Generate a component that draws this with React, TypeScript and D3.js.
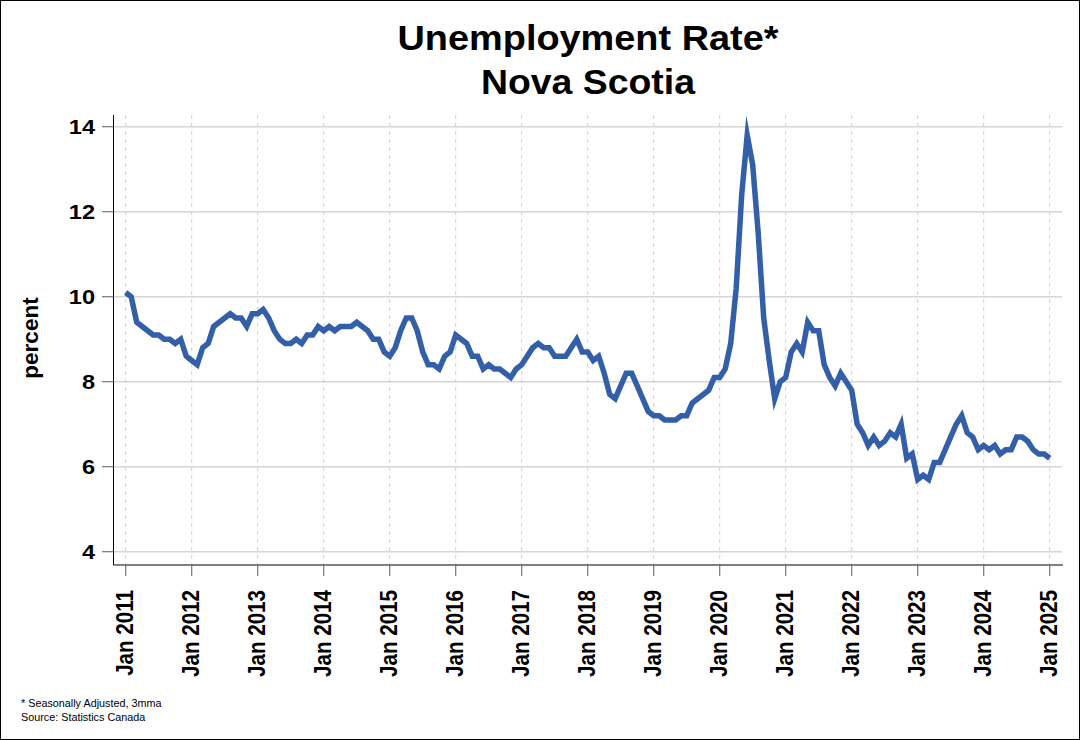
import React from 'react';
import * as d3 from 'd3';

// Monthly series, Jan 2011 .. Jan 2025 (seasonally adjusted, 3-month moving average)
const startYear = 2011;
const rate: number[] = [
  // 2011
  10.1, 10.0, 9.4, 9.3, 9.2, 9.1, 9.1, 9.0, 9.0, 8.9, 9.0, 8.6,
  // 2012
  8.5, 8.4, 8.8, 8.9, 9.3, 9.4, 9.5, 9.6, 9.5, 9.5, 9.3, 9.6,
  // 2013
  9.6, 9.7, 9.5, 9.2, 9.0, 8.9, 8.9, 9.0, 8.9, 9.1, 9.1, 9.3,
  // 2014
  9.2, 9.3, 9.2, 9.3, 9.3, 9.3, 9.4, 9.3, 9.2, 9.0, 9.0, 8.7,
  // 2015
  8.6, 8.8, 9.2, 9.5, 9.5, 9.2, 8.7, 8.4, 8.4, 8.3, 8.6, 8.7,
  // 2016
  9.1, 9.0, 8.9, 8.6, 8.6, 8.3, 8.4, 8.3, 8.3, 8.2, 8.1, 8.3,
  // 2017
  8.4, 8.6, 8.8, 8.9, 8.8, 8.8, 8.6, 8.6, 8.6, 8.8, 9.0, 8.7,
  // 2018
  8.7, 8.5, 8.6, 8.2, 7.7, 7.6, 7.9, 8.2, 8.2, 7.9, 7.6, 7.3,
  // 2019
  7.2, 7.2, 7.1, 7.1, 7.1, 7.2, 7.2, 7.5, 7.6, 7.7, 7.8, 8.1,
  // 2020
  8.1, 8.3, 8.9, 10.2, 12.4, 13.8, 13.1, 11.5, 9.5, 8.5, 7.6, 8.0,
  // 2021
  8.1, 8.7, 8.9, 8.7, 9.4, 9.2, 9.2, 8.4, 8.1, 7.9, 8.2, 8.0,
  // 2022
  7.8, 7.0, 6.8, 6.5, 6.7, 6.5, 6.6, 6.8, 6.7, 7.0, 6.2, 6.3,
  // 2023
  5.7, 5.8, 5.7, 6.1, 6.1, 6.4, 6.7, 7.0, 7.2, 6.8, 6.7, 6.4,
  // 2024
  6.5, 6.4, 6.5, 6.3, 6.4, 6.4, 6.7, 6.7, 6.6, 6.4, 6.3, 6.3,
  // 2025
  6.2,
];

const tickYears: number[] = [2011, 2012, 2013, 2014, 2015, 2016, 2017, 2018, 2019, 2020, 2021, 2022, 2023, 2024, 2025];
const yTicks: number[] = [4, 6, 8, 10, 12, 14];
const titleLines: string[] = ['Unemployment Rate*', 'Nova Scotia'];
const yLabel = 'percent';
const notes: string[] = ['* Seasonally Adjusted, 3mma', 'Source: Statistics Canada'];

const FONT = '"Liberation Sans", Arial, Helvetica, sans-serif';

export default function App() {
  const W = 1080;
  const H = 740;
  const left = 113.5;
  const right = 1062;
  const top = 115;
  const bottom = 565;

  const x = d3.scaleLinear().domain([0, rate.length - 1]).range([125.7, 1049.7]);
  const y = d3.scaleLinear().domain([4, 14]).range([551.7, 126.7]);
  const line = d3
    .line<number>()
    .x((_, i) => x(i))
    .y((d) => y(d));

  const monthIndex = (yr: number) => (yr - startYear) * 12;

  return (
    <svg
      width={W}
      height={H}
      viewBox={`0 0 ${W} ${H}`}
      style={{ position: 'absolute', left: 0, top: 0, background: '#fff' }}
      fontFamily={FONT}
    >
      <rect x={0} y={0} width={W} height={H} fill="#fff" />
      <rect x={0.5} y={0.5} width={W - 1} height={H - 1} fill="none" stroke="#000" strokeWidth={1} />

      {/* Titles */}
      {titleLines.map((t, i) => (
        <text
          key={t}
          x={588}
          y={i === 0 ? 50 : 94}
          textAnchor="middle"
          fontWeight="bold"
          fontSize={35}
          textLength={i === 0 ? 381 : 214}
          lengthAdjust="spacingAndGlyphs"
          fill="#000"
        >
          {t}
        </text>
      ))}

      {/* horizontal gridlines */}
      {yTicks.map((v) => (
        <line key={`hg${v}`} x1={left} x2={right} y1={y(v)} y2={y(v)} stroke="#d6d6d6" strokeWidth={1.5} />
      ))}
      {/* vertical dashed gridlines */}
      {tickYears.map((yr) => (
        <line
          key={`vg${yr}`}
          x1={x(monthIndex(yr))}
          x2={x(monthIndex(yr))}
          y1={top}
          y2={bottom}
          stroke="#cfcfcf"
          strokeWidth={1}
          strokeDasharray="4,4"
        />
      ))}

      {/* axes */}
      <line x1={left} x2={left} y1={top} y2={bottom} stroke="#000" strokeWidth={1} />
      <line x1={left} x2={right + 1} y1={bottom} y2={bottom} stroke="#000" strokeWidth={1} />

      {/* y ticks and labels */}
      {yTicks.map((v) => (
        <g key={`yt${v}`}>
          <line x1={102} x2={left} y1={y(v)} y2={y(v)} stroke="#777" strokeWidth={1.2} />
          <text
            transform={`translate(95,${y(v) + 7.3}) scale(1.15,1)`}
            textAnchor="end"
            fontWeight="bold"
            fontSize={20.5}
            fill="#000"
          >
            {v}
          </text>
        </g>
      ))}

      {/* x ticks and labels */}
      {tickYears.map((yr) => {
        const px = x(monthIndex(yr));
        return (
          <g key={`xt${yr}`}>
            <line x1={px} x2={px} y1={bottom} y2={576} stroke="#777" strokeWidth={1.2} />
            <text
              transform={`translate(${px + 7.5},590) scale(1.12,1) rotate(-90)`}
              textAnchor="end"
              fontWeight="bold"
              fontSize={20.6}
              fill="#000"
            >
              {`Jan ${yr}`}
            </text>
          </g>
        );
      })}

      {/* y-axis title */}
      <text
        transform={`translate(38,338) rotate(-90)`}
        textAnchor="middle"
        fontWeight="bold"
        fontSize={22.5}
        fill="#000"
      >
        {yLabel}
      </text>

      {/* series line */}
      <path
        d={line(rate) || ''}
        fill="none"
        stroke="#335fa8"
        strokeWidth={5.5}
        strokeLinejoin="miter"
        strokeMiterlimit={10}
      />

      {/* notes */}
      {notes.map((n, i) => (
        <text key={n} x={21} y={707.3 + i * 13.5} fontSize={10.8} fill="#000">
          {n}
        </text>
      ))}
    </svg>
  );
}
